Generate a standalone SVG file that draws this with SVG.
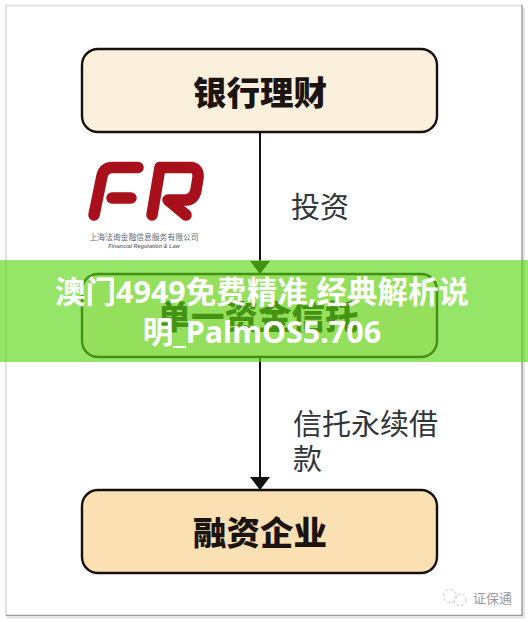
<svg xmlns="http://www.w3.org/2000/svg" width="528" height="622" viewBox="0 0 528 622">
<style>
.box{stroke:#15110e;stroke-width:2.4}
.t{font-family:"Noto Sans CJK SC","Noto Sans",sans-serif;fill:#1a1512;text-anchor:middle}
.b{font-weight:900;font-size:33.500px}
.l{font-weight:400;font-size:29px;fill:#30353a;text-anchor:start}
.w{font-family:"Noto Sans","Noto Sans CJK SC",sans-serif;font-weight:700;font-size:30.500px;fill:#fff;text-anchor:middle}
</style>
<defs><marker id="a" markerUnits="userSpaceOnUse" markerWidth="13" markerHeight="20" refX="13" refY="10" orient="auto"><path d="M0 0L13 10L0 20Z" fill="#15110e"/></marker></defs>
<rect width="528" height="622" fill="#fff"/>
<path d="M6 616V5.500H522" fill="none" stroke="#e2e2e2" stroke-width="2"/>
<path d="M6 615.500H522V5" fill="none" stroke="#9a9a9a" stroke-width="1.500"/>
<path d="M7 617.500H524V8" fill="none" stroke="#e4e4e4" stroke-width="2"/>
<g id="connectors" fill="none" stroke="#15110e" stroke-width="2">
<path d="M260 132V274" marker-end="url(#a)"/>
<path d="M260 357V490" marker-end="url(#a)"/>
</g>
<g id="node-bank"><rect class="box" x="82" y="49" width="355" height="83" rx="16" fill="#fbf0dc"/><text class="t b" x="260" y="105">银行理财</text></g>
<g id="node-trust"><rect class="box" x="82" y="274" width="355" height="83" rx="16" fill="#fbf0dc"/><text class="t b" x="258" y="329">单一资金信托</text></g>
<g id="node-company"><rect class="box" x="82" y="490" width="355" height="83" rx="16" fill="#fbe0b4"/><text class="t b" x="260" y="545">融资企业</text></g>
<g id="logo">
<path d="M94 215L102 176Q104 167.500 113 167.500H138M112 198H131" fill="none" stroke="#a8101c" stroke-width="11.500" stroke-linecap="round"/>
<path d="M152 215L160 167.500H190Q199 167.500 198 178L196 190Q194 200 185 200H168L186 215" fill="none" stroke="#a8101c" stroke-width="11.500" stroke-linecap="round" stroke-linejoin="round"/>
<text x="144" y="240" font-family="Noto Sans CJK SC,sans-serif" font-size="7.800" fill="#666" text-anchor="middle">上海法询金融信息服务有限公司</text>
<text x="144" y="248" font-family="Liberation Sans,sans-serif" font-size="5.500" font-weight="700" font-style="italic" fill="#777" text-anchor="middle">Financial Regulation &amp; Law</text>
</g>
<text class="t l" x="291" y="218">投资</text>
<text class="t l" x="293" y="435">信托永续借</text>
<text class="t l" x="293" y="470">款</text>
<rect id="banner" y="260" width="528" height="102" fill="#5cd717" fill-opacity=".65"/>
<text class="w" x="262" y="303">澳门4949免费精准,经典解析说</text>
<text class="w" x="262" y="343">明_PalmOS5.706</text>
<g id="wm"><circle cx="450" cy="596" r="6.500" fill="none" stroke="#ccc" stroke-dasharray="3 2"/><circle cx="460" cy="600" r="6" fill="none" stroke="#ccc" stroke-dasharray="3 2"/>
<text x="473" y="603" font-family="Noto Sans CJK SC,sans-serif" font-size="13" fill="#999">证保通</text></g>
</svg>
